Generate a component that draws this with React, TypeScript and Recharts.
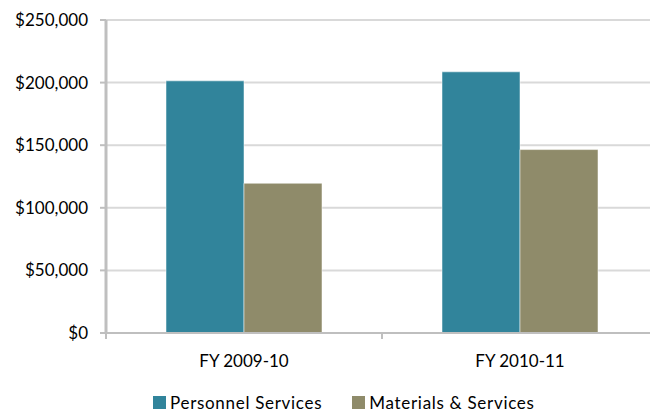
import React from "react";
import { BarChart, Bar, XAxis, YAxis, CartesianGrid, Legend } from "recharts";

const categories = ["FY 2009-10", "FY 2010-11"];
const personnel = [201400, 208600];
const materials = [119600, 146500];
const seriesNames = ["Personnel Services", "Materials & Services"];
const yTicks = [0, 50000, 100000, 150000, 200000, 250000];

const data = categories.map((c, i) => ({
  name: c,
  personnel: personnel[i],
  materials: materials[i],
}));

const FONT = "Lato, 'Open Sans', sans-serif";

const CategoryTick = (props: any) => {
  const { x, y, payload } = props;
  const half = payload && payload.offset ? payload.offset : 0;
  const axisY = y - 22;
  return (
    <g>
      <line x1={x - half} x2={x - half} y1={axisY} y2={axisY + 6} stroke="#bfbfbf" strokeWidth={2} />
      <line x1={x + half} x2={x + half} y1={axisY} y2={axisY + 6} stroke="#bfbfbf" strokeWidth={2} />
      <text x={x} y={y} dy="0.71em" textAnchor="middle" fill="#000" fontSize={17} fontFamily={FONT}>
        {payload.value}
      </text>
    </g>
  );
};

const renderLegend = (props: any) => {
  const payload = [...(props.payload || [])].sort(
    (a: any, b: any) => seriesNames.indexOf(a.value) - seriesNames.indexOf(b.value)
  );
  return (
    <div style={{ display: "flex", alignItems: "center", fontFamily: FONT, fontSize: 17, lineHeight: "17px", letterSpacing: 0.7, color: "#000", whiteSpace: "nowrap" }}>
      {payload.map((p: any, i: number) => (
        <div key={i} style={{ display: "flex", alignItems: "center", marginRight: 30 }}>
          <span style={{ display: "inline-block", width: 13, height: 13, background: p.color, marginRight: 4 }} />
          <span>{p.value}</span>
        </div>
      ))}
    </div>
  );
};

export default function App() {
  return (
    <div style={{ position: "fixed", left: 0, top: 0, width: 650, height: 411, overflow: "hidden", background: "#fff" }}>
      <BarChart
        width={660}
        height={411}
        data={data}
        margin={{ top: 20, right: 2, bottom: 38, left: 0 }}
        barGap={0}
        barSize={78}
      >
        <CartesianGrid vertical={false} stroke="#d9d9d9" strokeWidth={2} />
        <XAxis
          dataKey="name"
          height={40}
          tickLine={false}
          tickSize={0}
          tickMargin={22}
          axisLine={{ stroke: "#bfbfbf", strokeWidth: 2 }}
          tick={<CategoryTick />}
        />
        <YAxis
          width={106}
          domain={[0, 250000]}
          ticks={yTicks}
          tickFormatter={(v: number) => `$${v.toLocaleString("en-US")}`}
          axisLine={{ stroke: "#bfbfbf", strokeWidth: 3 }}
          tickLine={{ stroke: "#bfbfbf", strokeWidth: 2 }}
          tickSize={6}
          tickMargin={12}
          tick={{ fill: "#000", fontSize: 17, fontFamily: FONT }}
        />
        <Legend
          layout="horizontal"
          verticalAlign="middle"
          align="center"
          content={renderLegend}
          wrapperStyle={{ top: 394, left: 153, width: 480, height: 17 }}
        />
        <Bar dataKey="personnel" name={seriesNames[0]} fill="#31849b" stroke="rgba(255,255,255,0.5)" strokeWidth={1} isAnimationActive={false} />
        <Bar dataKey="materials" name={seriesNames[1]} fill="#8f8b6a" stroke="rgba(255,255,255,0.5)" strokeWidth={1} isAnimationActive={false} />
      </BarChart>
    </div>
  );
}
